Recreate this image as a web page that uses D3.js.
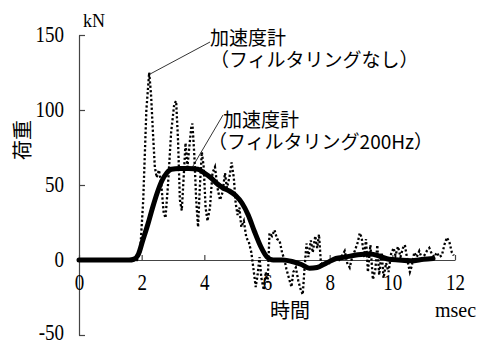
<!DOCTYPE html>
<html>
<head>
<meta charset="utf-8">
<script src="https://cdn.jsdelivr.net/npm/d3@7"></script>
<style>
  body { margin: 0; background: #fff; }
  svg { display: block; }
</style>
</head>
<body>
<div id="chart"></div>
<script>
// load vs time, raw accelerometer (dotted) and 200Hz filtered (solid)
var rawTime = [0, 1.85, 1.95, 2.05, 2.15, 2.24, 2.3, 2.36, 2.42, 2.48, 2.55, 2.62, 2.7, 2.76, 2.84, 2.94,
   3.04, 3.1, 3.16, 3.22, 3.28, 3.34, 3.4, 3.46, 3.52, 3.58, 3.62, 3.68, 3.74, 3.8, 3.86, 3.92, 3.98,
   4.04, 4.1, 4.18, 4.26, 4.34, 4.42, 4.5, 4.58, 4.66, 4.72, 4.8, 4.87, 4.94, 5.0, 5.06, 5.12, 5.18,
   5.26, 5.34, 5.42, 5.5, 5.58, 5.64, 5.7, 5.76, 5.82, 5.9, 5.96, 6.02, 6.08, 6.16, 6.24, 6.32, 6.4,
   6.48, 6.56, 6.62, 6.7, 6.78, 6.84, 6.92, 7.0, 7.08, 7.14, 7.2, 7.26, 7.32, 7.4, 7.46, 7.54, 7.6,
   7.66, 7.72, 7.8, 7.9, 8.0, 8.1, 8.2, 8.3, 8.4, 8.48, 8.56, 8.64, 8.72, 8.8, 8.9, 8.96, 9.02, 9.1,
   9.16, 9.22, 9.3, 9.38, 9.46, 9.52, 9.58, 9.66, 9.72, 9.8, 9.88, 9.96, 10.04, 10.1, 10.18, 10.26,
   10.34, 10.4, 10.48, 10.56, 10.62, 10.7, 10.78, 10.86, 10.94, 11.02, 11.1, 11.18, 11.26, 11.34,
   11.42, 11.5, 11.58, 11.66, 11.74, 11.82, 11.9, 11.96];
var rawLoad = [0, 0, 5, 40, 100, 125, 110, 85, 62, 55, 60, 52, 32, 28, 50, 85,
   104, 106, 80, 40, 33, 55, 78, 62, 75, 88, 91, 70, 40, 22, 50, 72, 62,
   35, 26, 35, 58, 62, 48, 40, 45, 58, 48, 55, 65, 55, 38, 30, 35, 22,
   26, 15, 12, 5, -8, -18, -10, 2, -12, -20, -8, -15, 18, 16, 20, 14, 13,
   5, 0, -6, -12, -18, -8, -5, -14, -20, -23, -5, 11, 2, 13, 5, 16, 8,
   17, -2, -3, -1, -2, 0, 1, 0, 3, 6, -2, -5, 2, 6, 12, 18, 15, 2,
   14, -8, 10, -13, -6, 10, -10, 5, -12, -2, -8, 4, 8, 3, 9, 2,
   8, 10, 0, -8, -4, 5, 2, 6, 1, 3, 6, 8, 4, 2,
   5, 2, 3, 10, 15, 12, 5, 3];

var filtTime = [0, 1.6, 1.75, 1.9, 2.02, 2.2, 2.35, 2.5, 2.65, 2.8, 2.95, 3.2, 3.5, 3.8, 4.0, 4.2,
   4.4, 4.6, 4.8, 5.0, 5.2, 5.4, 5.6, 5.8, 6.0, 6.2, 6.5, 6.8, 7.1, 7.35, 7.6, 7.9, 8.2, 8.5, 8.9,
   9.3, 9.6, 9.9, 10.2, 10.6, 11.0, 11.3];
var filtLoad = [0, 0, 0.5, 4, 12, 24, 35, 45, 53, 58, 60.5, 61, 61, 60.5, 58, 55,
   51, 48, 46, 43, 38, 30, 19, 9, 2, 0, 0, -1, -3, -5.5, -5, -2, 1, 2, 3.5,
   4, 2.5, 0.5, 0, -0.5, 0.5, 1];

var xTicks = [0, 2, 4, 6, 8, 10, 12];
var yTicks = [-50, 0, 50, 100, 150];

var width = 482, height = 343;

var x = d3.scaleLinear().domain([0, 12]).range([79, 455]);
var y = d3.scaleLinear().domain([-50, 150]).range([335, 35]);

var svg = d3.select('#chart').append('svg')
   .attr('width', width)
   .attr('height', height)
   .style('background', '#fff');

var numFont = '"Liberation Serif", "DejaVu Serif", serif';
var jpFont = '"Noto Sans CJK JP", sans-serif';

// y axis, ticks pointing right
var yAxis = svg.append('g')
   .attr('transform', 'translate(' + x(0) + ',0)')
   .call(d3.axisLeft(y).tickValues(yTicks).tickSizeInner(-6).tickSizeOuter(0)
      .tickFormat(function (d) { return String(d); }));
yAxis.attr('font-family', null).attr('font-size', null);
yAxis.selectAll('text')
   .attr('x', null).attr('dy', null)
   .attr('transform', function (d) {
      // lowest label sits a little higher so it stays inside the frame
      return 'translate(-15,' + (d < 0 ? 4 : 6) + ') scale(1,1.2)';
   })
   .style('font-family', numFont)
   .style('font-size', '19px')
   .attr('fill', '#000');

// x axis at zero load, ticks pointing up
var xAxis = svg.append('g')
   .attr('transform', 'translate(0,' + y(0) + ')')
   .call(d3.axisBottom(x).tickValues(xTicks).tickSizeInner(-5).tickSizeOuter(0));
xAxis.attr('font-family', null).attr('font-size', null);
xAxis.selectAll('text')
   .attr('y', null).attr('dy', null)
   .attr('transform', 'translate(0,30) scale(1,1.2)')
   .style('font-family', numFont)
   .style('font-size', '19px')
   .attr('fill', '#000');

svg.selectAll('.domain, .tick line').attr('stroke', '#444').attr('stroke-width', 1.2);

var line = d3.line()
   .x(function (d) { return x(d[0]); })
   .y(function (d) { return y(d[1]); });

// raw signal, dotted
svg.append('path')
   .datum(d3.zip(rawTime, rawLoad))
   .attr('d', line.curve(d3.curveLinear))
   .attr('fill', 'none')
   .attr('stroke', '#000')
   .attr('stroke-width', 2.3)
   .attr('stroke-dasharray', '2.2,2.2');

// filtered signal, thick
svg.append('path')
   .datum(d3.zip(filtTime, filtLoad))
   .attr('d', line.curve(d3.curveMonotoneX))
   .attr('fill', 'none')
   .attr('stroke', '#000')
   .attr('stroke-width', 5)
   .attr('stroke-linejoin', 'round')
   .attr('stroke-linecap', 'round');

// axis titles
svg.append('text')
   .attr('x', 83).attr('y', 27)
   .style('font-family', numFont).style('font-size', '18px')
   .text('kN');

svg.append('text')
   .attr('transform', 'translate(30,140) rotate(-90)')
   .attr('text-anchor', 'middle')
   .style('font-family', jpFont).style('font-size', '20px')
   .text('荷重');

svg.append('text')
   .attr('x', 290).attr('y', 318)
   .attr('text-anchor', 'middle')
   .style('font-family', jpFont).style('font-size', '20px')
   .text('時間');

svg.append('text')
   .attr('x', 435).attr('y', 317)
   .style('font-family', numFont).style('font-size', '20px')
   .text('msec');

// annotations with leader lines
var notes = [
   {lines: ['加速度計', '（フィルタリングなし）'], tx: 210, ty: 45, lx: 210, ly: 42, t: 2.27, v: 124},
   {lines: ['加速度計', '（フィルタリング200Hz）'], tx: 208, ty: 127, lx: 223, ly: 115, t: 3.62, v: 62}
];

notes.forEach(function (n) {
   svg.append('line')
      .attr('x1', n.lx).attr('y1', n.ly)
      .attr('x2', x(n.t)).attr('y2', y(n.v))
      .attr('stroke', '#000')
      .attr('stroke-width', 0.8);
   n.lines.forEach(function (s, i) {
      svg.append('text')
         .attr('x', i === 0 ? n.tx + (n.lx > n.tx ? 15 : 0) : n.tx)
         .attr('y', n.ty + i * 22)
         .style('font-family', jpFont).style('font-size', '19px')
         .text(s);
   });
});
</script>
</body>
</html>
